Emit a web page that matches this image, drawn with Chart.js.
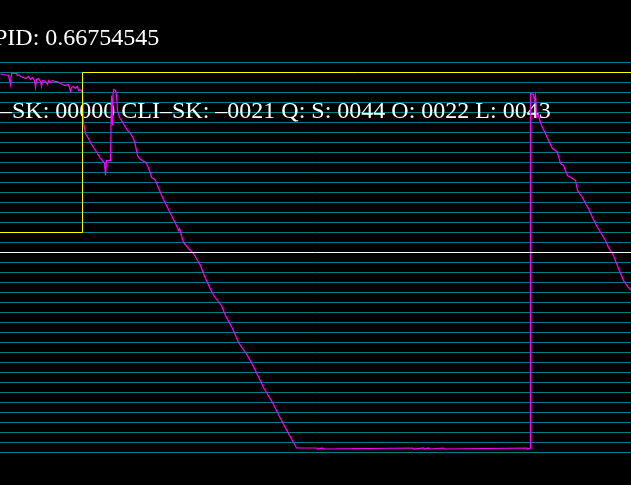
<!DOCTYPE html>
<html>
<head>
<meta charset="utf-8">
<script src="https://cdn.jsdelivr.net/npm/chart.js@4.4.1/dist/chart.umd.min.js"></script>
<style>
  html, body { margin: 0; padding: 0; background: #000; }
  #wrap { position: relative; width: 631px; height: 485px; overflow: hidden; background: #000; }
</style>
</head>
<body>
<div id="wrap"><canvas id="c"></canvas></div>
<script>
// ---- data (sample index vs level, level in grid divisions) ----
const traceSamples = [0,3,6,8,10,10.5,11,14,16,17,19,20,23,25,28,30,32,34,35,36,38,40,41,42,45,47,48,50,52,54,56,58,60,62,65,68,70,71,73,75,77,78,79,81,82,
  83,85,88,90,93,95,97,100,102,104,105,106,108,110,111,112,112.5,113,115,116,117,119,121,124,127,130,133,135,137,139,142,145,147,150,151,153,155,
  162,170,176,178,179,183,188,193,200,205,212,214,217,221,225,232,238,247,255,263,272,280,288,296,
  316,317,322,323,412,413,423,424,428,429,443,444,526,527,530,
  530,533,534,535,536,538,540,542,545,548,552,555,557,560,563,567,572,575,577,582,585,588,592,597,602,605,608,613,618,621,623,625,628,631];
const traceLevels = [37.87,37.8,37.75,37.7,36.8,37.6,37.93,37.9,37.9,37.7,37.75,37.6,37.5,37.4,37.6,37.3,37.5,37.2,36.5,37.3,37.4,37.1,36.6,37.2,37.1,36.8,37.2,37.0,37.2,37.1,37.1,37.0,36.9,36.8,36.7,36.8,36.1,36.5,36.6,36.4,36.6,36.2,36.3,36.2,35.9,
  33.0,31.9,31.4,31.0,30.5,30.2,29.9,29.4,29.2,28.9,27.7,29.2,29.2,29.2,35.7,32.7,36.0,36.3,36.2,35.7,34.2,33.5,33.2,32.7,32.2,31.9,31.4,30.7,29.7,29.4,29.2,29.0,28.7,27.9,27.5,27.4,27.2,
  25.5,23.9,22.7,22.2,22.4,21.0,20.4,19.9,18.7,17.4,15.9,15.6,15.2,14.7,13.7,12.4,11.0,9.7,8.2,6.5,5.0,3.4,1.9,0.45,
  0.45,0.35,0.45,0.35,0.45,0.35,0.45,0.35,0.45,0.35,0.45,0.35,0.45,0.35,0.45,
  35.9,35.8,35.2,35.7,33.5,33.7,33.0,32.5,31.9,31.2,30.4,30.2,30.0,28.9,28.7,27.7,27.4,27.2,26.2,25.5,24.9,24.4,23.5,22.5,21.7,21.2,20.5,19.7,18.4,17.7,17.2,16.9,16.5,16.2];

const thresholdSamples = [-10, 82, 82, 650];
const thresholdLevels  = [22, 22, 38, 38];

const referenceSamples = [-10, 650];
const referenceLevels  = [20, 20];

const gridLevels = Array.from({length: 40}, (_, i) => i); // 0..39

const pidText = "PID: 0.66754545";
const statusText = "\u2013SK: 00000 CLI\u2013SK: \u20130021 Q: S: 0044 O: 0022 L: 0043";

// ---- build ----
const toPts = (xs, ys) => xs.map((x, i) => ({x: x, y: ys[i]}));

const textPlugin = {
  id: 'overlayText',
  beforeDatasetsDraw(chart) {
    const ctx = chart.ctx;
    ctx.save();
    ctx.fillStyle = '#ffffff';
    ctx.font = "24px 'Liberation Serif', 'Times New Roman', serif";
    ctx.textBaseline = 'alphabetic';
    ctx.textAlign = 'left';
    ctx.fillText(pidText, -6, 45);
    ctx.fillText(statusText, 0, 118);
    ctx.restore();
  }
};

const bgPlugin = {
  id: 'bg',
  beforeDraw(chart) {
    const ctx = chart.ctx;
    ctx.save();
    ctx.fillStyle = '#000';
    ctx.fillRect(0, 0, chart.width, chart.height);
    ctx.restore();
  }
};

new Chart(document.getElementById('c'), {
  type: 'line',
  data: {
    datasets: [
      { label: 'threshold', data: toPts(thresholdSamples, thresholdLevels), borderColor: '#ffff00', borderWidth: 1, pointRadius: 0, tension: 0 },
      { label: 'reference', data: toPts(referenceSamples, referenceLevels), borderColor: '#ffffff', borderWidth: 1, pointRadius: 0, tension: 0 },
      { label: 'trace', data: toPts(traceSamples, traceLevels), borderColor: '#ff00ff', borderWidth: 1.2, pointRadius: 0, tension: 0 }
    ]
  },
  options: {
    responsive: true,
    maintainAspectRatio: false,
    animation: false,
    events: [],
    layout: { padding: 0 },
    plugins: { legend: { display: false }, tooltip: { enabled: false }, title: { display: false } },
    scales: {
      x: { type: 'linear', min: -0.5, max: 630.5, display: false },
      y: {
        type: 'linear', min: -3.25, max: 45.25,
        afterBuildTicks: (scale) => { scale.ticks = gridLevels.map(v => ({value: v})); },
        ticks: { display: false },
        border: { display: false },
        grid: { color: '#007f7f', lineWidth: 1, drawTicks: false, tickLength: 0 }
      }
    }
  },
  plugins: [bgPlugin, textPlugin]
});
</script>
</body>
</html>
